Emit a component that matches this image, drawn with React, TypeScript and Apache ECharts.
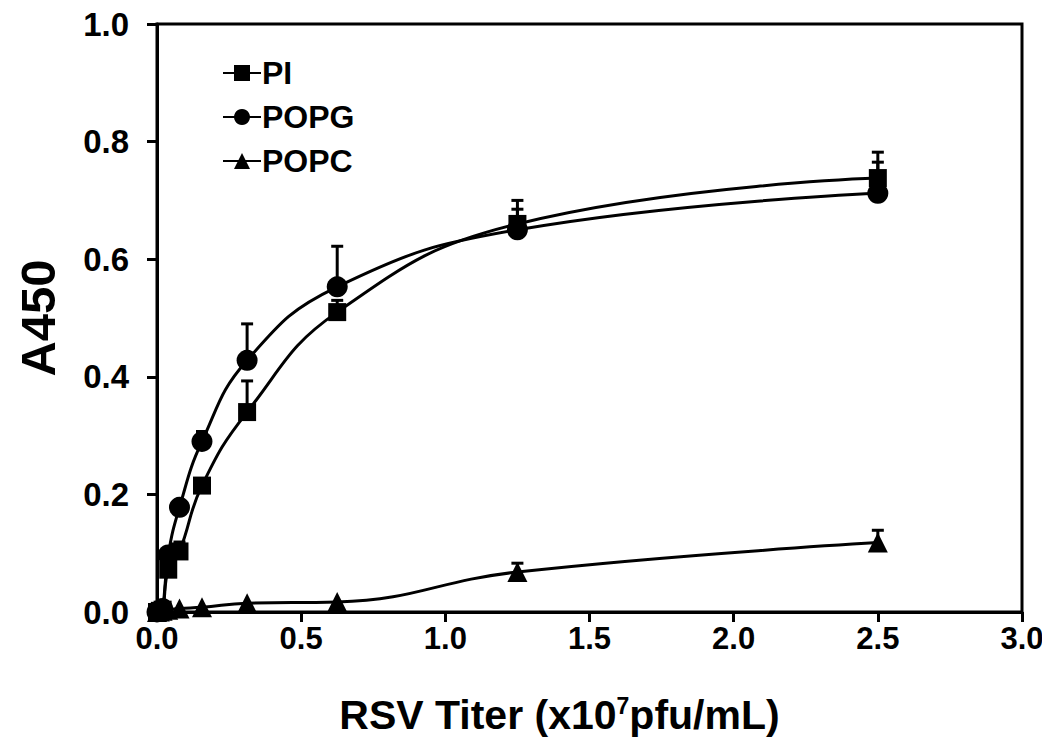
import React, { useEffect, useRef } from "react";
import * as echarts from "echarts";

const titers = [0, 0.0098, 0.0195, 0.039, 0.078, 0.156, 0.3125, 0.625, 1.25, 2.5];
const piValues = [0, 0.002, 0.004, 0.072, 0.103, 0.215, 0.34, 0.51, 0.66, 0.738];
const piErrTop = [0, 0.002, 0.004, 0.08, 0.119, 0.222, 0.393, 0.53, 0.7, 0.782];
const popgValues = [0, 0.003, 0.006, 0.097, 0.178, 0.29, 0.428, 0.553, 0.65, 0.712];
const popgErrTop = [0, 0.003, 0.006, 0.105, 0.185, 0.307, 0.49, 0.622, 0.685, 0.765];
const popcValues = [0, 0.001, 0.002, 0.004, 0.006, 0.008, 0.015, 0.017, 0.068, 0.118];
const popcErrTop = [0, 0.001, 0.002, 0.004, 0.006, 0.008, 0.015, 0.017, 0.083, 0.139];
const seriesNames = ["PI", "POPG", "POPC"];

const FONT = "'Liberation Sans', Arial, sans-serif";

function errData(vals: number[], tops: number[]) {
  return titers
    .map((x, i) => [x, vals[i], tops[i]])
    .filter((d) => d[2] - d[1] > 0.004);
}

export default function App() {
  const ref = useRef<HTMLDivElement>(null);
  useEffect(() => {
    if (!ref.current) return;
    const chart = echarts.init(ref.current, null, { renderer: "svg" });
    const renderErr = (params: any, api: any) => {
      const x = api.value(0);
      const y = api.value(1);
      const top = api.value(2);
      const p1 = api.coord([x, y]);
      const p2 = api.coord([x, top]);
      return {
        type: "group",
        children: [
          { type: "line", shape: { x1: p1[0], y1: p1[1], x2: p2[0], y2: p2[1] }, style: { stroke: "#000", lineWidth: 3 } },
          { type: "line", shape: { x1: p2[0] - 6, y1: p2[1], x2: p2[0] + 6, y2: p2[1] }, style: { stroke: "#000", lineWidth: 3 } },
        ],
      };
    };
    const mk = (name: string, vals: number[], symbol: string, size: number) => ({
      name,
      type: "line",
      data: titers.map((x, i) => [x, vals[i]]),
      smooth: 0.45,
      symbol,
      symbolSize: size,
      showAllSymbol: true,
      lineStyle: { color: "#000", width: 3 },
      itemStyle: { color: "#000" },
      z: 3,
    });
    const errSeries = (vals: number[], tops: number[]) => ({
      type: "custom",
      renderItem: renderErr,
      data: errData(vals, tops),
      encode: { x: 0, y: 1 },
      z: 2,
      silent: true,
    });
    chart.setOption({
      animation: false,
      backgroundColor: "#fff",
      grid: {
        left: 157,
        right: 28,
        top: 24,
        bottom: 136,
        show: true,
        borderColor: "#000",
        borderWidth: 3,
      },
      legend: {
        data: seriesNames,
        orient: "vertical",
        left: 222,
        top: 57,
        padding: 0,
        itemWidth: 38,
        itemHeight: 20,
        itemGap: 12,
        textStyle: { fontFamily: FONT, fontWeight: "bold", fontSize: 32, color: "#000", padding: [0, 0, 0, -4] },
      },
      xAxis: {
        type: "value",
        min: 0,
        max: 3,
        interval: 0.5,
        name: "RSV Titer (x10{sup|7}pfu/mL)",
        nameLocation: "middle",
        nameGap: 82,
        nameTextStyle: {
          fontFamily: FONT,
          fontWeight: "bold",
          fontSize: 41,
          color: "#000",
          padding: [0, 60, 0, 0],
          rich: {
            sup: { fontFamily: FONT, fontWeight: "bold", fontSize: 23, color: "#000", verticalAlign: "top", padding: [0, 0, 17, 0] },
          },
        },
        axisLine: { lineStyle: { color: "#000", width: 3 } },
        axisTick: { show: true, inside: false, length: 10, lineStyle: { color: "#000", width: 3 } },
        axisLabel: {
          fontFamily: FONT,
          fontWeight: "bold",
          fontSize: 31,
          color: "#000",
          margin: 11,
          formatter: (v: number) => v.toFixed(1),
        },
        splitLine: { show: false },
      },
      yAxis: {
        type: "value",
        min: 0,
        max: 1,
        interval: 0.2,
        name: "A450",
        nameLocation: "middle",
        nameGap: 95,
        nameRotate: 90,
        nameTextStyle: { fontFamily: FONT, fontWeight: "bold", fontSize: 49, color: "#000" },
        axisLine: { lineStyle: { color: "#000", width: 3 } },
        axisTick: { show: true, inside: false, length: 10, lineStyle: { color: "#000", width: 3 } },
        axisLabel: {
          fontFamily: FONT,
          fontWeight: "bold",
          fontSize: 33,
          color: "#000",
          margin: 28,
          formatter: (v: number) => v.toFixed(1),
        },
        splitLine: { show: false },
      },
      series: [
        mk("PI", piValues, "rect", 18),
        mk("POPG", popgValues, "circle", 21),
        mk("POPC", popcValues, "triangle", 20),
        errSeries(piValues, piErrTop),
        errSeries(popgValues, popgErrTop),
        errSeries(popcValues, popcErrTop),
      ],
    });
    return () => chart.dispose();
  }, []);
  return <div ref={ref} style={{ width: 1050, height: 748, margin: -8 }} />;
}
